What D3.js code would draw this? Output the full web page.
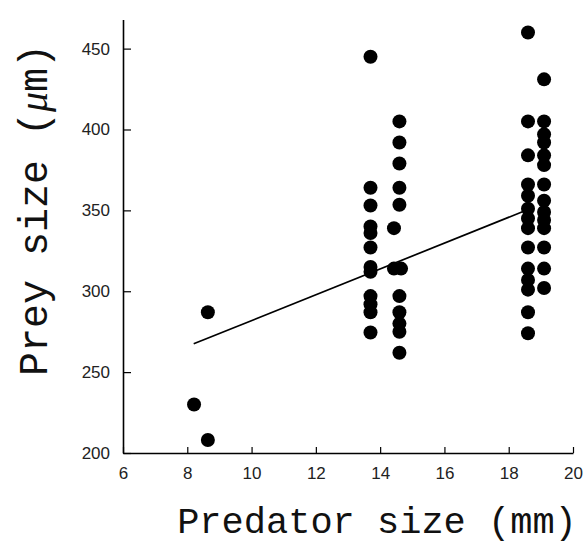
<!DOCTYPE html>
<html>
<head>
<meta charset="utf-8">
<script src="https://cdn.jsdelivr.net/npm/d3@7"></script>
<style>
  html, body { margin: 0; padding: 0; background: #fff; }
  svg { display: block; }
</style>
</head>
<body>
<script>
// ---- data ----
const predatorSize = [
  8.21, 8.64, 8.64,
  13.7, 13.7, 13.7, 13.7, 13.7, 13.7, 13.7, 13.7, 13.7, 13.7, 13.7, 13.7,
  14.6, 14.6, 14.6, 14.6, 14.6, 14.6, 14.6, 14.6, 14.6, 14.6, 14.65,
  14.43, 14.43,
  18.6, 18.6, 18.6, 18.6, 18.6, 18.6, 18.6, 18.6, 18.6, 18.6, 18.6, 18.6, 18.6, 18.6,
  19.1, 19.1, 19.1, 19.1, 19.1, 19.1, 19.1, 19.1, 19.1, 19.1, 19.1, 19.1, 19.1, 19.1
];
const preySize = [
  230, 208, 287,
  445, 364, 353, 340, 336, 327, 315, 312, 297, 292, 287, 274.5,
  405, 392, 379, 364, 353.5, 297, 287, 280, 275, 262, 314,
  339, 314,
  460, 405, 384, 366, 359, 351, 345, 339, 327, 314, 307, 301, 287, 274,
  431, 405, 397, 392, 384, 378, 366, 356, 349, 344, 339, 327, 314, 302
];
const fitX = [8.2, 18.6];
const fitY = [267.5, 350.5];
const xTicks = [6, 8, 10, 12, 14, 16, 18, 20];
const yTicks = [200, 250, 300, 350, 400, 450];

// ---- chart ----
const W = 586, H = 543;
const svg = d3.select("body").append("svg").attr("width", W).attr("height", H);

const x = d3.scaleLinear().domain([6, 20]).range([123, 573]);
const y = d3.scaleLinear().domain([200, 468]).range([453, 19.5]);

const tickFont = "'Liberation Sans', Arial, sans-serif";

// x axis
const gx = svg.append("g").attr("transform", `translate(0,${y(200)})`)
  .call(d3.axisBottom(x).tickValues(xTicks).tickSizeInner(-6).tickSizeOuter(0).tickPadding(14));
gx.select(".domain").attr("stroke", "#000").attr("stroke-width", 1.6);
gx.selectAll(".tick line").attr("stroke", "#000").attr("stroke-width", 1.2);
gx.selectAll(".tick text").attr("font-family", tickFont).attr("font-size", 17).attr("fill", "#222");

// y axis
const gy = svg.append("g").attr("transform", `translate(${x(6)},0)`)
  .call(d3.axisLeft(y).tickValues(yTicks).tickSizeInner(-8).tickSizeOuter(0).tickPadding(13));
gy.select(".domain").attr("stroke", "#000").attr("stroke-width", 1.6);
gy.selectAll(".tick line").attr("stroke", "#000").attr("stroke-width", 1.2);
gy.selectAll(".tick text").attr("font-family", tickFont).attr("font-size", 17).attr("fill", "#222");

// regression line
svg.append("line")
  .attr("x1", x(fitX[0])).attr("y1", y(fitY[0]))
  .attr("x2", x(fitX[1])).attr("y2", y(fitY[1]))
  .attr("stroke", "#000").attr("stroke-width", 1.7);

// points
svg.append("g").selectAll("circle")
  .data(predatorSize.map((d, i) => [d, preySize[i]]))
  .join("circle")
  .attr("cx", d => x(d[0]))
  .attr("cy", d => y(d[1]))
  .attr("r", 7)
  .attr("fill", "#000");

// axis titles
const titleFont = "'Liberation Mono', 'Courier New', monospace";
svg.append("text")
  .attr("x", 377).attr("y", 533)
  .attr("text-anchor", "middle")
  .attr("font-family", titleFont).attr("font-size", 37).attr("fill", "#111")
  .text("Predator size (mm)");

const yt = svg.append("text")
  .attr("transform", "translate(47,210) rotate(-90)")
  .attr("text-anchor", "middle")
  .attr("font-family", titleFont).attr("font-size", 40).attr("fill", "#111");
yt.append("tspan").text("Prey size (");
yt.append("tspan").attr("font-style", "italic").attr("font-family", "'Liberation Serif', serif").text("\u03bc");
yt.append("tspan").text("m)");
</script>
</body>
</html>
